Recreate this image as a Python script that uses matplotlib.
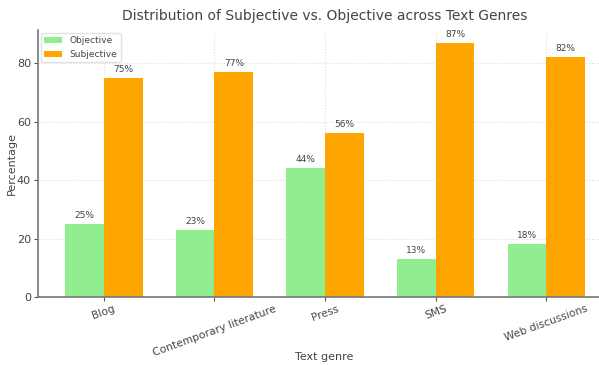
import numpy as np
import matplotlib.pyplot as plt

genres = ["Blog", "Contemporary literature", "Press", "SMS", "Web discussions"]
objective = [25, 23, 44, 13, 18]
subjective = [75, 77, 56, 87, 82]

plt.rcParams["text.color"] = "#444444"
plt.rcParams["axes.labelcolor"] = "#444444"
plt.rcParams["xtick.color"] = "#444444"
plt.rcParams["ytick.color"] = "#444444"

fig = plt.figure(figsize=(5.99, 3.65), dpi=100)
ax = fig.add_axes([38 / 599, 68 / 365, 573 / 599, 267 / 365])

x = np.arange(len(genres))
width = 0.35
b1 = ax.bar(x - width / 2, objective, width, label="Objective", color="lightgreen")
b2 = ax.bar(x + width / 2, subjective, width, label="Subjective", color="orange")

for bars in (b1, b2):
    for rect in bars:
        h = rect.get_height()
        ax.annotate(f"{h}%", xy=(rect.get_x() + rect.get_width() / 2, h),
                    xytext=(0, 3), textcoords="offset points",
                    ha="center", va="bottom", fontsize=6.5)

ax.set_ylim(0, 91.35)
ax.set_xlim(-0.595, 4.585)
ax.set_xticks(x)
ax.set_xticklabels(genres, rotation=20, fontsize=7.7)
ax.set_yticks([0, 20, 40, 60, 80])
ax.tick_params(axis="y", labelsize=8, length=3, color="#555555", pad=2)
ax.tick_params(axis="x", length=3, color="#555555", pad=2)
ax.set_xlabel("Text genre", fontsize=8)
ax.xaxis.set_label_coords(0.5, -0.205)
ax.set_ylabel("Percentage", fontsize=8)
ax.yaxis.set_label_coords(-0.036, 0.5)
ax.set_title("Distribution of Subjective vs. Objective across Text Genres", fontsize=10, color="#444444", pad=7)
ax.set_axisbelow(True)
ax.grid(True, linestyle=":", color="#dddddd", linewidth=0.8)
for side in ("top", "right"):
    ax.spines[side].set_visible(False)
for side in ("left", "bottom"):
    ax.spines[side].set_color("#777777")
    ax.spines[side].set_linewidth(1.2)
ax.legend(loc="upper left", fontsize=6.5, handlelength=2, frameon=True, framealpha=0.8,
          edgecolor="#dddddd", borderaxespad=0.3)

fig.savefig("out.png", dpi=100)
